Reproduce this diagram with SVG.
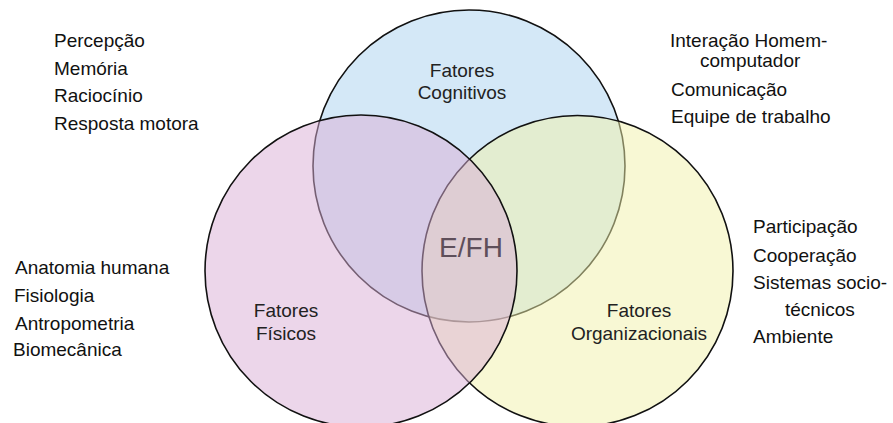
<svg xmlns="http://www.w3.org/2000/svg" width="893" height="423" viewBox="0 0 893 423">
  <style>
    text { font-family: "Liberation Sans", Arial, sans-serif; font-size: 19px; fill: #111; }
    .c { text-anchor: middle; fill: #222; }
    .ring { stroke: #111; stroke-width: 1.6; }
    .efh { font-size: 28px; fill: #5e4f5a; text-anchor: middle; }
  </style>
  <rect width="893" height="423" fill="#fff"/>
  <g id="node-cognitivos">
    <circle class="ring" cx="469" cy="166" r="156" fill="#d4e8f7"/>
    <text class="c" x="462" y="77">Fatores</text>
    <text class="c" x="462" y="99">Cognitivos</text>
  </g>
  <g id="node-organizacionais">
    <circle class="ring" cx="577.5" cy="271" r="155.5" fill="#f1f1a9" fill-opacity="0.5"/>
    <text class="c" x="639" y="317">Fatores</text>
    <text class="c" x="639" y="339.5">Organizacionais</text>
  </g>
  <g id="node-fisicos">
    <circle class="ring" cx="361" cy="271" r="156" fill="#d9add5" fill-opacity="0.5"/>
    <text class="c" x="286" y="317">Fatores</text>
    <text class="c" x="286" y="340">Físicos</text>
  </g>
  <g id="node-efh">
    <text class="efh" x="471" y="257">E/FH</text>
  </g>
  <g id="list-cognitivos">
    <text x="54" y="47">Percepção</text>
    <text x="54" y="74.5">Memória</text>
    <text x="54" y="102">Raciocínio</text>
    <text x="54" y="129.5">Resposta motora</text>
  </g>
  <g id="list-interacao">
    <text x="670" y="47">Interação Homem-</text>
    <text x="700" y="67">computador</text>
    <text x="671" y="96">Comunicação</text>
    <text x="671" y="123">Equipe de trabalho</text>
  </g>
  <g id="list-fisicos">
    <text x="15" y="274">Anatomia humana</text>
    <text x="14" y="301.5">Fisiologia</text>
    <text x="15" y="329.5">Antropometria</text>
    <text x="13" y="356">Biomecânica</text>
  </g>
  <g id="list-organizacionais">
    <text x="753" y="233">Participação</text>
    <text x="753" y="261.5">Cooperação</text>
    <text x="753" y="289">Sistemas socio-</text>
    <text x="785" y="316">técnicos</text>
    <text x="753" y="343">Ambiente</text>
  </g>
</svg>
